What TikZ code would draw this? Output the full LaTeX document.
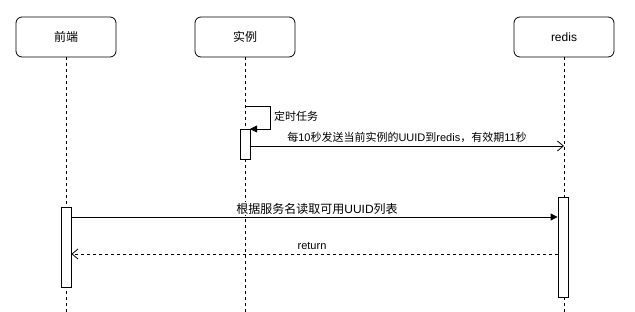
\documentclass[tikz,border=0pt]{standalone}
\usepackage{fontspec}
\setmainfont{Liberation Sans}
\newfontfamily\cjk{Noto Sans CJK SC}
\usetikzlibrary{arrows.meta}
\begin{document}
\begin{tikzpicture}[x=1pt,y=-1pt,
  actor/.style={draw,rounded corners=6pt,minimum width=100pt,minimum height=40pt,inner sep=0pt,font=\fontsize{12}{14}\selectfont,line width=0.8pt},
  life/.style={dash pattern=on 3pt off 3pt,line width=0.7pt},
  act/.style={draw,fill=white,line width=0.8pt,minimum width=10pt,inner sep=0pt},
  msg/.style={line width=0.8pt},
  lbl/.style={font=\fontsize{11}{13}\selectfont,inner sep=1pt,fill=white},
  lblb/.style={font=\fontsize{12}{14}\selectfont,inner sep=0.5pt,fill=white},
  filled/.style={-{Triangle[length=7pt,width=7pt]}},
  openarr/.style={-{Straight Barb[length=6pt,width=10pt]}}
]
\useasboundingbox (0,0) rectangle (635,312);
\fill[white] (0,0) rectangle (635,312);
% actors
\node[actor] (fe) at (66,37) {\cjk 前端};
\node[actor] (in) at (245,37) {\cjk 实例};
\node[actor] (rd) at (564,37) {redis};
% lifeline ends
\coordinate (feE) at (66,312);
\coordinate (inE) at (245,312);
\coordinate (rdE) at (564,312);
\draw[life] (fe.south) -- (feE);
\draw[life] (in.south) -- (inE);
\draw[life] (rd.south) -- (rdE);
% activations
\node[act,minimum height=30pt] (inA) at (245,144) {};
\node[act,minimum height=80pt] (feA) at (66,247) {};
\node[act,minimum height=100pt] (rdA) at (563,247) {};
% self loop
\coordinate (s0) at (245,106);
\coordinate (s1) at (270,106);
\coordinate (s2) at (270,129);
\coordinate (s3) at (250,129);
\draw[msg,filled] (s0) -- (s1) -- (s2) -- (s3);
\node[lbl,anchor=west] (selfL) at (273,116) {\cjk 定时任务};
% message 1
\coordinate (m1s) at (inA.east |- 0,146);
\coordinate (m1e) at (564,146);
\draw[msg,openarr] (m1s) -- (m1e);
\node[lbl] (m1L) at (407,137) {{\cjk 每}10{\cjk 秒发送当前实例的}UUID{\cjk 到}redis{\cjk ，有效期}11{\cjk 秒}};
% message 2
\coordinate (m2s) at (feA.east |- 0,217);
\coordinate (m2e) at (rdA.west |- 0,217);
\draw[msg,filled] (m2s) -- (m2e);
\node[lblb] (m2L) at (317,208.5) {{\cjk 根据服务名读取可用}UUID{\cjk 列表}};
% return
\coordinate (m3s) at (rdA.west |- 0,254);
\coordinate (m3e) at (feA.east |- 0,254);
\draw[msg,openarr,dash pattern=on 3pt off 3pt] (m3s) -- (m3e);
\node[lbl] (m3L) at (312,246) {return};
\end{tikzpicture}
\end{document}
